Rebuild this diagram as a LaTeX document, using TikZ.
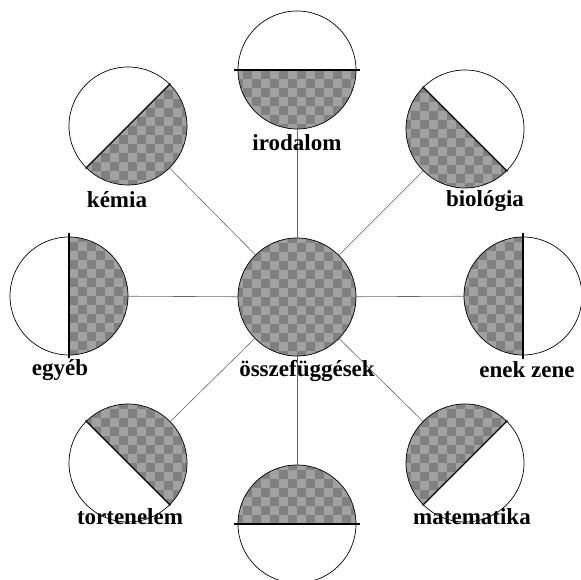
\documentclass[tikz,border=0pt]{standalone}
\usepackage{fontspec}
\setmainfont{Liberation Serif}
\usetikzlibrary{calc}
\definecolor{chkdark}{gray}{0.50}
\definecolor{chklight}{gray}{0.63}
\newcommand{\chkfill}{%
  \fill[chkdark] (-72pt,-72pt) rectangle (72pt,72pt);
  \foreach \ii in {-8,...,7}{\foreach \jj in {-8,...,7}{%
    \pgfmathtruncatemacro{\chkp}{mod(\ii+\jj+16,2)}%
    \ifnum\chkp=0 \fill[chklight] (\ii*9pt,\jj*9pt) rectangle ++(9pt,9pt);\fi
  }}%
}
% #1 = centre coordinate, #2 = direction of the shaded half
\newcommand{\shadehalfat}[2]{%
  \begin{scope}[shift={(#1)}]
    \clip (0pt,0pt) circle (59pt);
    \clip (#2+90:62pt) -- (#2+45:88pt) -- (#2-45:88pt) -- (#2-90:62pt) -- cycle;
    \chkfill
  \end{scope}}
\newcommand{\shadefullat}[1]{%
  \begin{scope}[shift={(#1)}]
    \clip (0pt,0pt) circle (59pt);
    \chkfill
  \end{scope}}
\tikzset{
  disc/.style={circle, draw=black, line width=0.7pt, minimum size=118pt, inner sep=0pt},
  divline/.style={line width=1.3pt, black},
  conn/.style={draw=gray!80!black, line width=0.6pt},
  lbl/.style={font=\fontsize{23}{26}\selectfont\bfseries, inner sep=0pt}
}
\begin{document}
\begin{tikzpicture}[x=1pt,y=1pt]
\useasboundingbox (0,0) rectangle (581,580);
% centres
\coordinate (pc) at (297,283);
\coordinate (pt) at (297,510);
\coordinate (pk) at (128,454);
\coordinate (pb) at (465,451);
\coordinate (pe) at (69,284);
\coordinate (pz) at (523,284);
\coordinate (po) at (128,117);
\coordinate (pbm) at (297,56);
\coordinate (pm) at (465,117);
% shading
\shadefullat{pc}
\shadehalfat{pt}{270}
\shadehalfat{pk}{315}
\shadehalfat{pb}{225}
\shadehalfat{pe}{0}
\shadehalfat{pz}{180}
\shadehalfat{po}{45}
\shadehalfat{pbm}{90}
\shadehalfat{pm}{135}
% circles
\node[disc] (c) at (pc) {};
\node[disc] (t) at (pt) {};
\node[disc] (k) at (pk) {};
\node[disc] (b) at (pb) {};
\node[disc] (e) at (pe) {};
\node[disc] (z) at (pz) {};
\node[disc] (o) at (po) {};
\node[disc] (bm) at (pbm) {};
\node[disc] (m) at (pm) {};
% dividing lines
\draw[divline] ($(t.center)+(180:63)$) -- ($(t.center)+(0:63)$);
\draw[divline] ($(k.center)+(225:60)$) -- ($(k.center)+(45:60)$);
\draw[divline] ($(b.center)+(135:60)$) -- ($(b.center)+(315:60)$);
\draw[divline] ($(e.center)+(90:63)$) -- ($(e.center)+(270:62)$);
\draw[divline] ($(z.center)+(90:63)$) -- ($(z.center)+(270:63)$);
\draw[divline] ($(o.center)+(135:60)$) -- ($(o.center)+(315:60)$);
\draw[divline] ($(bm.center)+(180:63)$) -- ($(bm.center)+(0:63)$);
\draw[divline] ($(m.center)+(45:60)$) -- ($(m.center)+(225:60)$);
% connectors
\draw[conn] (c) -- (t);
\draw[conn] (c) -- (k);
\draw[conn] (c) -- (b);
\draw[conn] (c) -- (e);
\draw[conn] (c) -- (z);
\draw[conn] (c) -- (o);
\draw[conn] (c) -- (bm);
\draw[conn] (c) -- (m);
% labels
\node[lbl] (lt) at (297,437) {irodalom};
\node[lbl] (lk) at (117,380) {kémia};
\node[lbl] (lb) at (485,379) {biológia};
\node[lbl] (le) at (60,210) {egyéb};
\node[lbl] (lc) at (307,209) {összefüggések};
\node[lbl] (lz) at (527,210) {enek zene};
\node[lbl] (lo) at (130,63) {tortenelem};
\node[lbl] (lm) at (472,63) {matematika};
\end{tikzpicture}
\end{document}
